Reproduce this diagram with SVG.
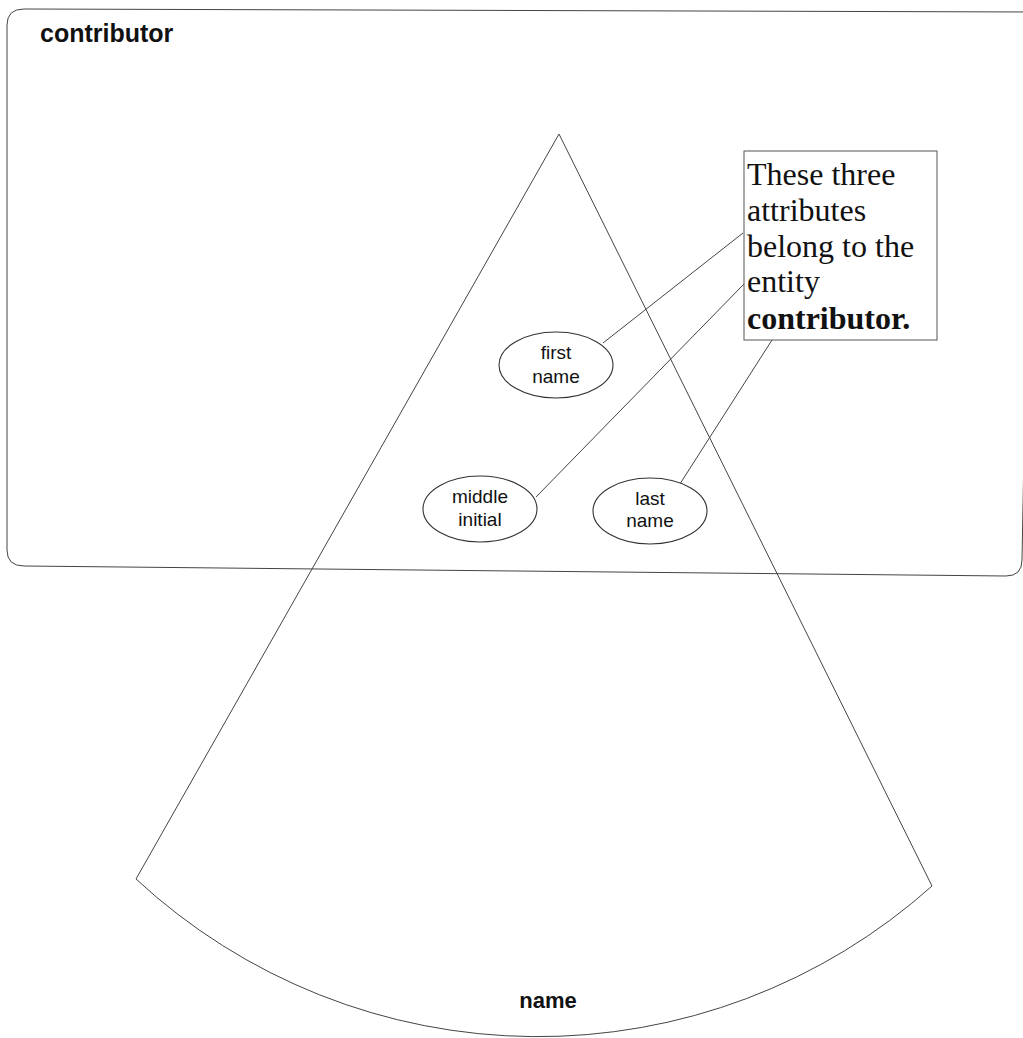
<svg xmlns="http://www.w3.org/2000/svg" width="1023" height="1038" viewBox="0 0 1023 1038">
<style>
.ln{fill:none;stroke:#444;stroke-width:1}
.el{fill:#fff;stroke:#333;stroke-width:1.1}
.at{font-family:"Liberation Sans",Arial,sans-serif;font-size:19px;fill:#111;text-anchor:middle}
.hd{font-family:"Liberation Sans",Arial,sans-serif;font-size:25px;font-weight:bold;fill:#111}
.nt{font-family:"Liberation Serif","Times New Roman",serif;font-size:32px;fill:#111}
</style>
<rect width="1023" height="1038" fill="#fff"/>
<g id="contributor">
<path class="ln" d="M 24 9 L 1032 12 L 1022 560 Q 1022 576 1006 576 L 24 566 Q 7 566 7 550 L 7 25 Q 7 9 24 9 Z"/>
<text class="hd" x="40" y="42">contributor</text>
</g>
<g id="name">
<path class="ln" d="M 559 134 L 136 879 A 591 591 0 0 0 932 886 Z"/>
<text class="hd" x="548" y="1008" text-anchor="middle" style="font-size:22px">name</text>
</g>
<g id="connectors">
<line class="ln" x1="603" y1="343" x2="743" y2="233"/>
<line class="ln" x1="536" y1="497" x2="744" y2="284"/>
<line class="ln" x1="678" y1="487" x2="772" y2="340"/>
</g>
<g id="first-name">
<ellipse class="el" cx="556" cy="365" rx="57" ry="33"/>
<text class="at" x="556" y="359">first</text>
<text class="at" x="556" y="383">name</text>
</g>
<g id="middle-initial">
<ellipse class="el" cx="480" cy="509" rx="57" ry="33"/>
<text class="at" x="480" y="503">middle</text>
<text class="at" x="480" y="526">initial</text>
</g>
<g id="last-name">
<ellipse class="el" cx="650" cy="511" rx="57" ry="33"/>
<text class="at" x="650" y="505">last</text>
<text class="at" x="650" y="527">name</text>
</g>
<g id="note">
<rect x="744" y="151" width="193" height="189" fill="#fff" stroke="#555" stroke-width="1"/>
<text class="nt" x="747" y="185">These three</text>
<text class="nt" x="747" y="221">attributes</text>
<text class="nt" x="747" y="257">belong to the</text>
<text class="nt" x="747" y="292">entity</text>
<text class="nt" x="747" y="329" font-weight="bold">contributor.</text>
</g>
</svg>
